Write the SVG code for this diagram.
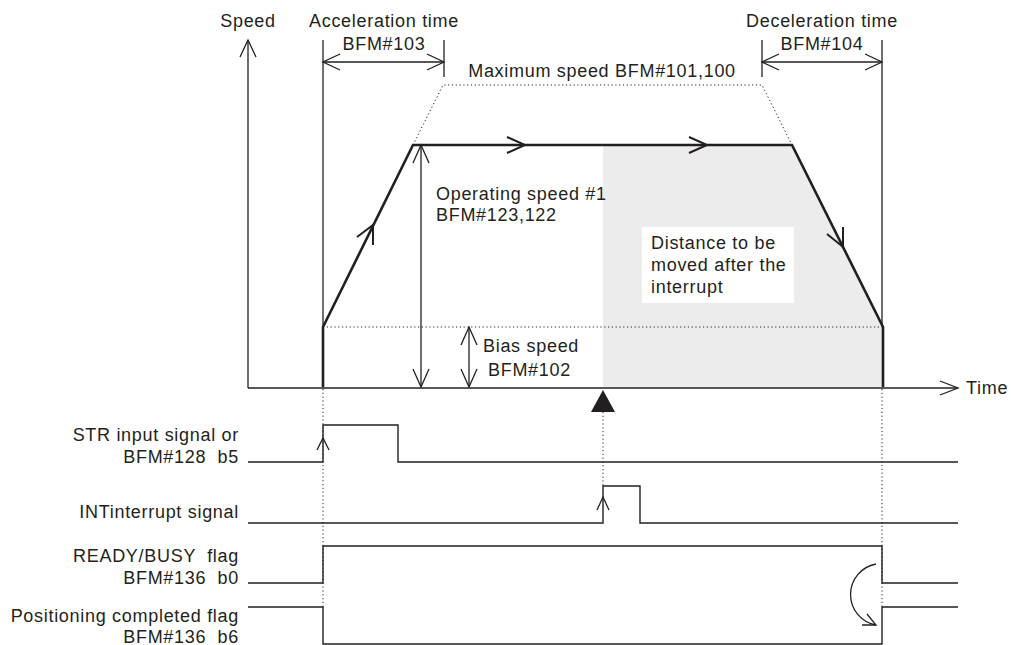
<svg xmlns="http://www.w3.org/2000/svg" width="1011" height="645" viewBox="0 0 1011 645">
<style>
text{font-family:"Liberation Sans",Arial,sans-serif;font-size:18px;fill:#231f20;letter-spacing:0.7px;white-space:pre}
.ln{fill:none;stroke:#231f20;stroke-width:1.3}
.th{fill:none;stroke:#231f20;stroke-width:2.6;stroke-linejoin:miter}
.ar{fill:none;stroke:#231f20;stroke-width:1.3}
.arT{fill:none;stroke:#231f20;stroke-width:2}
.dt{fill:none;stroke:#231f20;stroke-width:1;stroke-dasharray:1.2 2.6}
.sig{fill:none;stroke:#231f20;stroke-width:1.4}
.end{text-anchor:end}
.mid{text-anchor:middle}
</style>
<rect width="1011" height="645" fill="#fff"/>
<g id="shade">
<polygon points="603,145 792,145 883,327 883,387 603,387" fill="#ebeceb"/>
<rect x="642" y="227" width="152" height="76" fill="#fff"/>
</g>
<g id="axes">
<line class="ln" x1="248" y1="40" x2="248" y2="388"/>
<polyline class="ar" points="240,57 248,40 256,57"/>
<line class="ln" x1="248" y1="388" x2="958" y2="388"/>
<polyline class="ar" points="940,381 958,388 940,395"/>
<text x="248" y="27" class="mid">Speed</text>
<text x="966" y="394">Time</text>
</g>
<g id="dimensions">
<line class="ln" x1="323" y1="40" x2="323" y2="327"/>
<line class="ln" x1="444" y1="40" x2="444" y2="77"/>
<line class="ln" x1="323" y1="62" x2="444" y2="62"/>
<polyline class="ar" points="340,54 323,62 340,70"/>
<polyline class="ar" points="427,54 444,62 427,70"/>
<text x="384" y="27" class="mid">Acceleration time</text>
<text x="384" y="50" class="mid">BFM#103</text>
<line class="ln" x1="762" y1="40" x2="762" y2="77"/>
<line class="ln" x1="882" y1="40" x2="882" y2="327"/>
<line class="ln" x1="762" y1="62" x2="882" y2="62"/>
<polyline class="ar" points="779,54 762,62 779,70"/>
<polyline class="ar" points="865,54 882,62 865,70"/>
<text x="822" y="27" class="mid">Deceleration time</text>
<text x="822" y="50" class="mid">BFM#104</text>
<polyline class="dt" points="413,145 443,85 762,85 792,145"/>
<text x="602" y="77" class="mid">Maximum speed BFM#101,100</text>
<line class="ln" x1="421" y1="145" x2="421" y2="387"/>
<polyline class="ar" points="413,163 421,145 429,163"/>
<polyline class="ar" points="413,369 421,387 429,369"/>
<text x="436" y="200">Operating speed #1</text>
<text x="436" y="221">BFM#123,122</text>
<line class="dt" x1="323" y1="327" x2="883" y2="327"/>
<line class="ln" x1="469" y1="327" x2="469" y2="387"/>
<polyline class="ar" points="461,345 469,327 477,345"/>
<polyline class="ar" points="461,369 469,387 477,369"/>
<text x="483" y="352">Bias speed</text>
<text x="488" y="376">BFM#102</text>
</g>
<g id="profile">
<polyline class="th" points="323,387 323,327 413,145 792,145 883,327 883,387"/>
<polyline class="arT" points="507,137 525,145 507,153"/>
<polyline class="arT" points="689,137 707,145 689,153"/>
<polyline class="arT" points="357,237 373,225 373,245"/>
<polyline class="arT" points="827,234 843,247 843,227"/>
<text x="651" y="249">Distance to be</text>
<text x="651" y="271">moved after the</text>
<text x="651" y="293">interrupt</text>
</g>
<g id="interrupt-marker">
<polygon points="603,390 591,412 615,412" fill="#231f20"/>
<line class="dt" x1="603" y1="412" x2="603" y2="486"/>
<line class="dt" x1="323" y1="389" x2="323" y2="607"/>
<line class="dt" x1="882" y1="389" x2="882" y2="607"/>
</g>
<g id="signals">
<polyline class="sig" points="248,462 323,462 323,425 398,425 398,462 958,462"/>
<polyline class="ar" points="317,450 323,438 329,450"/>
<text x="239" y="441" class="end">STR input signal or</text>
<text x="239" y="463" class="end">BFM#128  b5</text>
<polyline class="sig" points="248,523 603,523 603,486 640,486 640,523 958,523"/>
<polyline class="ar" points="597,510 603,497 609,510"/>
<text x="239" y="518" class="end">INTinterrupt signal</text>
<polyline class="sig" points="248,583 323,583 323,546 882,546 882,583 958,583"/>
<text x="239" y="562" class="end">READY/BUSY  flag</text>
<text x="239" y="584" class="end">BFM#136  b0</text>
<polyline class="sig" points="248,607 323,607 323,644 882,644 882,607 958,607"/>
<text x="239" y="622" class="end">Positioning completed flag</text>
<text x="239" y="643" class="end">BFM#136  b6</text>
<path class="ar" d="M876,564 A31,31 0 0 0 876,625"/>
<polyline class="ar" points="862,625 876,625 867,614"/>
</g>
</svg>
